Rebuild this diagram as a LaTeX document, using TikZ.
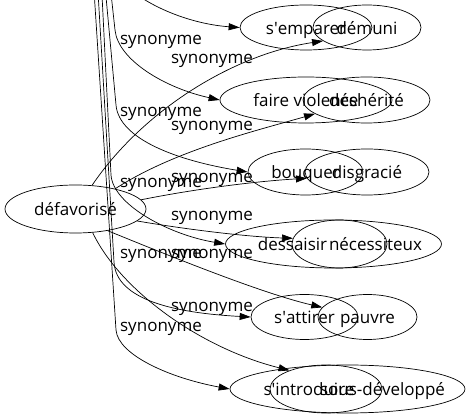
\documentclass[tikz,border=0pt]{standalone}
\usepackage{fontspec}
\setmainfont{Open Sans}
\usetikzlibrary{shapes.geometric,arrows.meta}

\begin{document}
\begin{tikzpicture}[->,>={Triangle[length=11pt,width=7pt]},x=1pt,y=-1pt,
        line width=0.7pt,
        every node/.style={font=\fontsize{17}{20}\selectfont},
        wtext/.style={inner sep=0pt,text height=16pt,text depth=2pt},
        word/.style={draw,ellipse,wtext},
        rel/.style={anchor=base,inner sep=0pt}]

    \useasboundingbox (0,0) rectangle (469,419);
    \clip (0,0) rectangle (469,419);

    % Words
    \node[word,minimum width=141pt,minimum height=48pt] (defavorise) at (75.5,209) {défavorisé};
    \node[word,minimum width=132pt,minimum height=45pt] (emparer) at (306,27.5) {s\textquotesingle emparer};
    \node[word,minimum width=108pt,minimum height=45pt] (demuni) at (367,27.5) {démuni};
    \node[word,minimum width=172pt,minimum height=46pt] (violence) at (306,100) {faire violence};
    \node[word,minimum width=127pt,minimum height=46pt] (desherite) at (366.5,100) {déshérité};
    \node[word,minimum width=115pt,minimum height=46pt] (bouquer) at (305.5,172) {bouquer};
    \node[word,minimum width=124pt,minimum height=46pt] (disgracie) at (367,172) {disgracié};
    \node[word,minimum width=216pt,minimum height=48pt,
        label={[wtext,xshift=-41pt]center:dessaisir}] (dessaisir) at (333.5,244) {};
    \node[word,minimum width=95pt,minimum height=48pt,
        label={[wtext,xshift=36pt]center:nécessiteux}] (necessiteux) at (339.5,244) {};
    \node[word,minimum width=107pt,minimum height=45pt] (attirer) at (304.5,317) {s\textquotesingle attirer};
    \node[word,minimum width=99pt,minimum height=45pt] (pauvre) at (367.5,317) {pauvre};
    \node[word,minimum width=235pt,minimum height=48pt,
        label={[wtext,xshift=-38.5pt]center:s\textquotesingle introduire}] (introduire) at (347.5,389) {};
    \node[word,minimum width=112pt,minimum height=48pt,
        label={[wtext,xshift=56.5pt]center:sous-développé}] (sousdev) at (326,389) {};

    % Links from défavorisé
    \draw (defavorise.55) .. controls (141,113) and (230,55) .. (demuni.197);
    \draw (defavorise.27) .. controls (175,150) and (259,130) .. (desherite.195);
    \draw (defavorise.8) .. controls (200,188) and (260,181) .. (disgracie.186);
    \draw (defavorise.-11) .. controls (190,230) and (250,237) .. (necessiteux.173);
    \draw (defavorise.-34) .. controls (160,252) and (260,293) .. (pauvre.168);
    \draw (defavorise.-54) .. controls (120,290) and (200,348) .. (sousdev.153);

    % Links coming from above the frame
    \coordinate (inA) at (115,-25);
    \coordinate (inB) at (109,-25);
    \coordinate (inC) at (104,-25);
    \coordinate (inD) at (101,-25);
    \coordinate (inE) at (97,-25);
    \coordinate (inF) at (93,-25);
    \draw (inA) .. controls (140,5) and (190,24) .. (emparer.west);
    \draw (inB) -- (115,30) .. controls (118,60) and (165,88) .. (violence.west);
    \draw (inC) -- (116,105) .. controls (119,140) and (180,161) .. (bouquer.west);
    \draw (inD) -- (111,175) .. controls (113,205) and (170,235) .. (dessaisir.west);
    \draw (inE) -- (114,262) .. controls (116,300) and (175,313) .. (attirer.west);
    \draw (inF) -- (116,330) .. controls (118,355) and (170,378) .. (introduire.west);

    % Edge labels
    \node[rel] (s1) at (161,44.5) {synonyme};
    \node[rel] (s2) at (212,64) {synonyme};
    \node[rel] (s3) at (161,116.5) {synonyme};
    \node[rel] (s4) at (212,131) {synonyme};
    \node[rel] (s5) at (161,188) {synonyme};
    \node[rel] (s6) at (212,183) {synonyme};
    \node[rel] (s7) at (212,221) {synonyme};
    \node[rel] (s8) at (161,259) {synonyme};
    \node[rel] (s9) at (212,259) {synonyme};
    \node[rel] (s10) at (212,312) {synonyme};
    \node[rel] (s11) at (161,332) {synonyme};

\end{tikzpicture}
\end{document}
